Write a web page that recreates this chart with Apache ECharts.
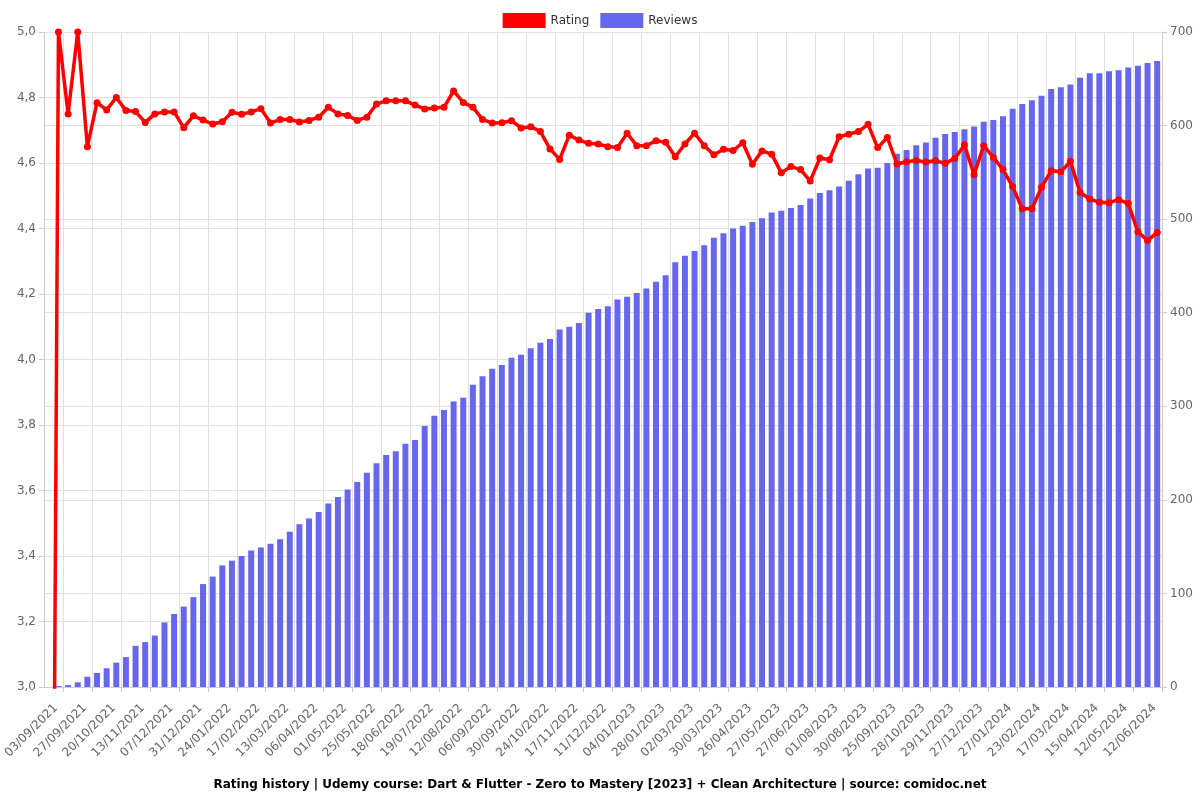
<!DOCTYPE html>
<html>
<head>
<meta charset="utf-8">
<script src="https://cdn.jsdelivr.net/npm/echarts@6/dist/echarts.min.js"></script>
<style>html,body{margin:0;padding:0;background:#fff}#c{width:1200px;height:800px}</style>
</head>
<body>
<div id="c"></div>
<script>
const dates = [
"03/09/2021","11/09/2021","19/09/2021","27/09/2021","05/10/2021","13/10/2021","20/10/2021","28/10/2021","05/11/2021","13/11/2021",
"21/11/2021","29/11/2021","07/12/2021","15/12/2021","23/12/2021","31/12/2021","08/01/2022","16/01/2022","24/01/2022","01/02/2022",
"09/02/2022","17/02/2022","25/02/2022","05/03/2022","13/03/2022","21/03/2022","29/03/2022","06/04/2022","14/04/2022","22/04/2022",
"01/05/2022","09/05/2022","17/05/2022","25/05/2022","02/06/2022","10/06/2022","18/06/2022","28/06/2022","09/07/2022","19/07/2022",
"27/07/2022","04/08/2022","12/08/2022","20/08/2022","29/08/2022","06/09/2022","14/09/2022","22/09/2022","30/09/2022","08/10/2022",
"16/10/2022","24/10/2022","01/11/2022","09/11/2022","17/11/2022","25/11/2022","03/12/2022","11/12/2022","19/12/2022","27/12/2022",
"04/01/2023","12/01/2023","20/01/2023","28/01/2023","08/02/2023","19/02/2023","02/03/2023","11/03/2023","20/03/2023","30/03/2023",
"08/04/2023","17/04/2023","26/04/2023","06/05/2023","16/05/2023","27/05/2023","06/06/2023","16/06/2023","27/06/2023","09/07/2023",
"20/07/2023","01/08/2023","10/08/2023","20/08/2023","30/08/2023","08/09/2023","16/09/2023","25/09/2023","06/10/2023","17/10/2023",
"28/10/2023","08/11/2023","18/11/2023","29/11/2023","08/12/2023","17/12/2023","27/12/2023","06/01/2024","16/01/2024","27/01/2024",
"05/02/2024","14/02/2024","23/02/2024","02/03/2024","09/03/2024","17/03/2024","26/03/2024","05/04/2024","15/04/2024","24/04/2024",
"03/05/2024","12/05/2024","22/05/2024","01/06/2024","12/06/2024","22/06/2024"
];

const rating = [
0, 5.0, 4.75, 5.0, 4.65, 4.784, 4.762, 4.80, 4.76, 4.757,
4.724, 4.75, 4.756, 4.756, 4.708, 4.744, 4.731, 4.719, 4.726, 4.755,
4.749, 4.756, 4.766, 4.722, 4.733, 4.733, 4.725, 4.73, 4.74, 4.77,
4.75, 4.745, 4.73, 4.74, 4.78, 4.79, 4.79, 4.79, 4.777, 4.765,
4.768, 4.77, 4.82, 4.785, 4.77, 4.733, 4.722, 4.723, 4.729, 4.707,
4.711, 4.696, 4.643, 4.611, 4.685, 4.670, 4.660, 4.658, 4.650, 4.647,
4.691, 4.653, 4.653, 4.668, 4.663, 4.619, 4.658, 4.691, 4.653, 4.625,
4.642, 4.638, 4.662, 4.596, 4.637, 4.627, 4.570, 4.589, 4.58, 4.545,
4.615, 4.61, 4.68, 4.688, 4.696, 4.718, 4.647, 4.678, 4.597, 4.604,
4.608, 4.603, 4.607, 4.599, 4.614, 4.655, 4.564, 4.653, 4.617, 4.58,
4.528, 4.46, 4.46, 4.526, 4.576, 4.573, 4.605, 4.51, 4.49, 4.48,
4.479, 4.488, 4.476, 4.39, 4.363, 4.388
];

const reviews = [
0, 1, 2, 5, 11, 15, 20, 26, 32, 44,
48, 55, 69, 78, 86, 96, 110, 118, 130, 135,
140, 146, 149, 153, 158, 166, 174, 180, 187, 196,
203, 211, 219, 229, 239, 248, 252, 260, 264, 279,
290, 296, 305, 309, 323, 332, 340, 344, 352, 355,
362, 368, 372, 382, 385, 389, 400, 404, 407, 414,
417, 421, 426, 433, 440, 454, 461, 466, 472, 480,
485, 490, 493, 497, 501, 507, 509, 512, 515, 522,
528, 531, 535, 541, 548, 554, 555, 560, 570, 574,
579, 582, 587, 591, 593, 596, 599, 604, 606, 610,
618, 623, 627, 632, 639, 641, 644, 651, 656, 656,
658, 659, 662, 664, 667, 669
];

const ratingTicks = {min: 3, max: 5, interval: 0.2};
const reviewTicks = {min: 0, max: 700, interval: 100};

const FONT = 'DejaVu Sans';
const chart = echarts.init(document.getElementById('c'), null, {renderer: 'canvas'});
chart.setOption({
  animation: false,
  textStyle: {fontFamily: FONT},
  title: {
    text: 'Rating history | Udemy course: Dart & Flutter - Zero to Mastery [2023] + Clean Architecture | source: comidoc.net',
    left: 'center', bottom: 4,
    textStyle: {fontFamily: FONT, fontSize: 12, fontWeight: 'bold', color: '#000'}
  },
  legend: {
    top: 8, left: 'center', itemWidth: 43, itemHeight: 15, itemGap: 11,
    icon: 'rect',
    textStyle: {fontFamily: FONT, fontSize: 12, color: '#333'},
    data: ['Rating', 'Reviews']
  },
  grid: {left: 44, right: 38, top: 32, bottom: 113, containLabel: false, outerBoundsMode: 'none'},
  xAxis: {
    type: 'category', data: dates, boundaryGap: true,
    axisLine: {show: true, lineStyle: {color: '#ccc'}},
    axisTick: {show: true, interval: (i) => i % 3 === 2, lineStyle: {color: '#ccc'}},
    splitLine: {show: true, interval: (i) => i % 3 === 2, lineStyle: {color: '#e0e0e0'}},
    axisLabel: {interval: (i) => i % 3 === 0, rotate: 45, color: '#666', fontSize: 12, fontFamily: FONT,
      margin: 12, verticalAlign: 'top', padding: [4, 0, 0, 0]}
  },
  yAxis: [
    {
      type: 'value', min: ratingTicks.min, max: ratingTicks.max, interval: ratingTicks.interval,
      axisLine: {show: true, lineStyle: {color: '#ccc'}},
      axisTick: {show: true, lineStyle: {color: '#ccc'}},
      splitLine: {show: true, lineStyle: {color: '#e0e0e0'}},
      axisLabel: {color: '#666', fontSize: 12, fontFamily: FONT,
        formatter: (v) => v.toFixed(1).replace('.', ',')}
    },
    {
      type: 'value', min: reviewTicks.min, max: reviewTicks.max, interval: reviewTicks.interval,
      position: 'right',
      axisLine: {show: true, lineStyle: {color: '#ccc'}},
      axisTick: {show: true, lineStyle: {color: '#ccc'}},
      splitLine: {show: true, lineStyle: {color: '#e0e0e0'}},
      axisLabel: {color: '#666', fontSize: 12, fontFamily: FONT}
    }
  ],
  series: [
    {
      name: 'Rating', type: 'line', yAxisIndex: 0, data: rating,
      color: '#ff0000', symbol: 'circle', symbolSize: 7, showAllSymbol: true, z: 5,
      lineStyle: {width: 3.5, color: '#ff0000'},
      itemStyle: {color: '#ff0000'}
    },
    {
      name: 'Reviews', type: 'bar', yAxisIndex: 1, data: reviews,
      color: '#6666ee', barWidth: '62%', z: 2,
      itemStyle: {color: '#6666ee'}
    }
  ]
});
</script>
</body>
</html>
